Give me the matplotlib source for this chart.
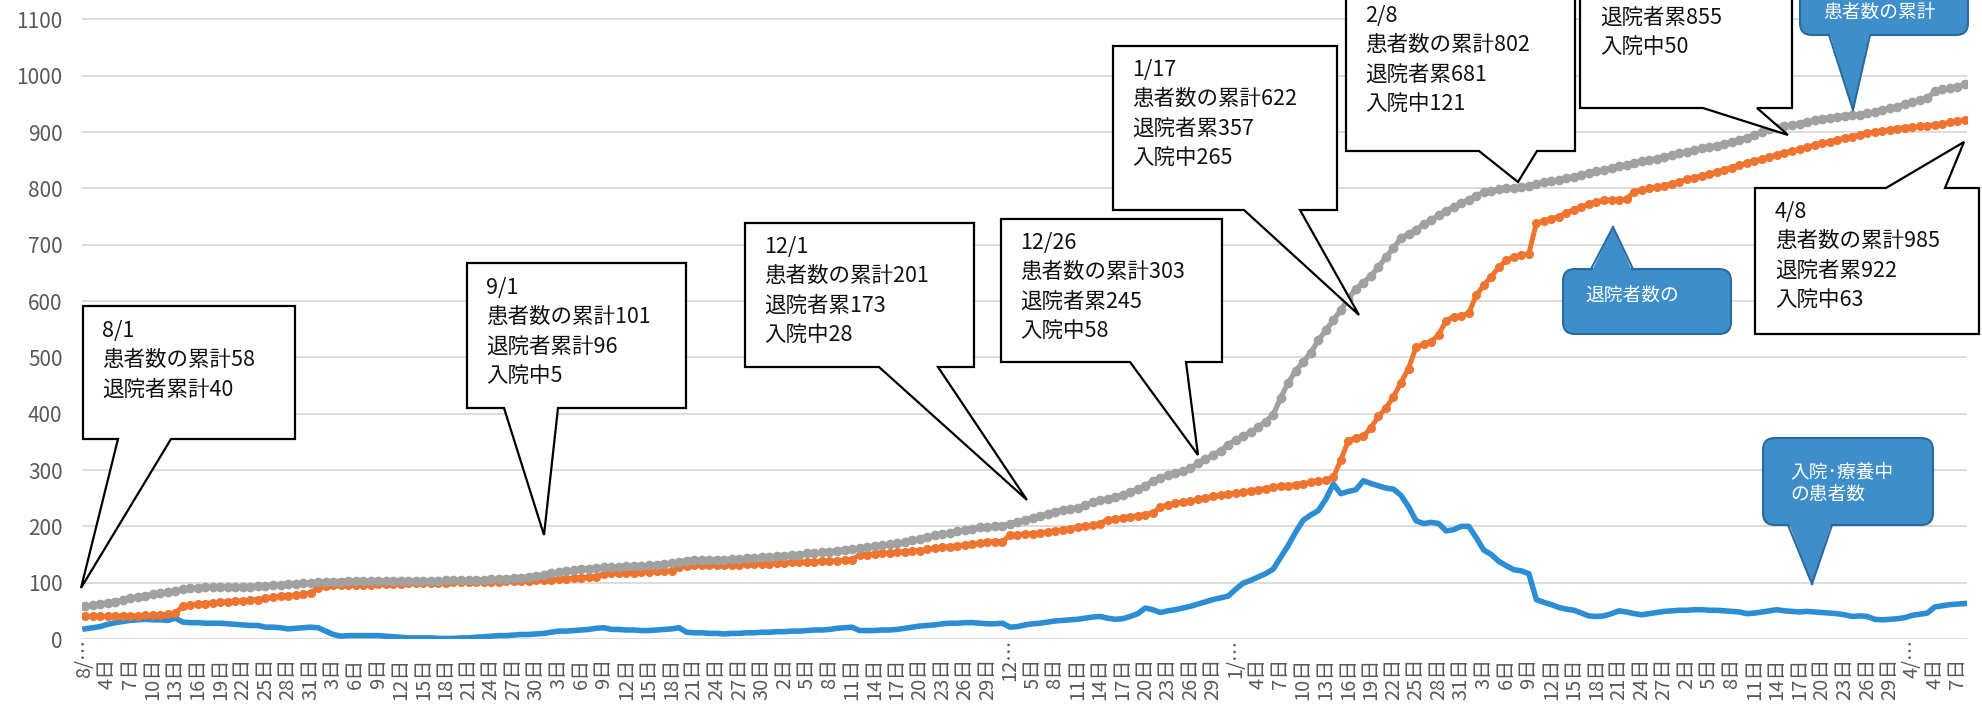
import numpy as np
import pandas as pd
import matplotlib
matplotlib.use("Agg")
import matplotlib.pyplot as plt
from matplotlib.patches import Polygon, FancyBboxPatch
from matplotlib.lines import Line2D
from matplotlib.transforms import Affine2D

plt.rcParams['font.family'] = ['Noto Sans CJK JP', 'DejaVu Sans']

# daily values, 2020-08-01 .. 2021-04-08
# 患者数の累計
total_aug = [58, 60, 62, 64, 66, 69, 72, 75, 77, 79, 81, 83, 85, 88, 90, 91, 92, 92, 92, 93,
             93, 93, 93, 94, 94, 95, 96, 97, 98, 99, 100]
total_sep = [101, 102, 102, 102, 103, 103, 103, 103, 103, 103, 103, 103, 103, 103, 103, 103, 103, 104, 104, 104,
             104, 105, 105, 106, 106, 107, 108, 109, 110, 112]
total_oct = [114, 117, 119, 121, 122, 124, 125, 126, 127, 128, 128, 129, 130, 130, 131, 132, 133, 135, 137, 139,
             140, 140, 141, 141, 141, 142, 142, 143, 144, 145, 146]
total_nov = [147, 148, 149, 150, 152, 153, 154, 155, 157, 158, 160, 161, 163, 165, 166, 168, 170, 172, 175, 178,
             181, 184, 186, 188, 191, 194, 196, 198, 199, 200]
total_dec = [201, 204, 208, 212, 215, 218, 222, 226, 229, 231, 233, 238, 243, 246, 249, 252, 256, 261, 266, 272,
             280, 286, 291, 295, 299, 303, 312, 320, 326, 334, 345]
total_jan = [353, 360, 367, 376, 386, 398, 428, 455, 476, 492, 508, 530, 548, 566, 584, 604, 622, 632, 645, 660,
             678, 694, 712, 719, 726, 736, 744, 752, 760, 767, 774]
total_feb = [780, 787, 793, 796, 798, 800, 801, 802, 805, 808, 811, 813, 815, 818, 821, 824, 827, 830, 833, 836,
             839, 842, 845, 848, 850, 853, 856, 859]
total_mar = [862, 865, 868, 871, 873, 876, 879, 882, 886, 890, 895, 900, 905, 908, 910, 912, 915, 918, 921, 924,
             925, 927, 929, 930, 931, 933, 936, 939, 942, 945, 950]
total_apr = [953, 956, 960, 972, 976, 978, 980, 985]

# 退院者数の累計
disch_aug = [40, 40, 40, 40, 41, 41, 41, 41, 42, 42, 43, 44, 46, 58, 60, 62, 63, 64, 65, 66,
             67, 68, 69, 70, 72, 74, 76, 77, 78, 79, 82]
disch_sep = [90, 94, 95, 95, 96, 96, 96, 96, 97, 97, 98, 98, 99, 99, 99, 100, 100, 100, 101, 101,
             101, 102, 102, 102, 102, 103, 103, 103, 103, 104]
disch_oct = [104, 105, 106, 107, 108, 109, 110, 110, 116, 117, 117, 118, 118, 119, 119, 120, 120, 121, 128, 130,
             131, 131, 131, 131, 131, 132, 132, 133, 133, 134, 134]
disch_nov = [135, 135, 136, 136, 137, 137, 138, 138, 139, 140, 141, 149, 150, 151, 152, 153, 154, 155, 156, 157,
             159, 161, 163, 164, 165, 167, 168, 170, 172, 173]
disch_dec = [173, 184, 185, 186, 187, 188, 190, 192, 194, 196, 198, 200, 202, 205, 212, 213, 215, 217, 219, 221,
             224, 234, 238, 241, 243, 245, 248, 250, 253, 255, 257]
disch_jan = [259, 261, 263, 265, 267, 269, 271, 272, 274, 276, 278, 280, 282, 287, 318, 352, 357, 360, 375, 395,
             410, 430, 455, 480, 518, 523, 528, 540, 565, 572, 574]
disch_feb = [578, 610, 628, 643, 660, 672, 678, 681, 684, 738, 742, 746, 750, 756, 762, 767, 772, 776, 779, 779,
             780, 781, 794, 797, 800, 802, 805, 808]
disch_mar = [811, 816, 819, 822, 825, 829, 833, 837, 841, 845, 849, 852, 855, 860, 863, 866, 869, 873, 877, 880,
             883, 886, 889, 892, 895, 898, 900, 902, 904, 906, 908]
disch_apr = [909, 910, 911, 913, 915, 917, 919, 922]

# 入院・療養中の患者数
inpat_aug = [18, 20, 22, 26, 29, 31, 33, 34, 35, 34, 34, 33, 37, 30, 29, 29, 28, 28, 28, 27,
             26, 25, 24, 24, 21, 21, 20, 18, 19, 20, 21]
inpat_sep = [20, 14, 8, 5, 6, 6, 6, 6, 6, 5, 4, 3, 2, 2, 2, 2, 1, 1, 1, 2,
             2, 3, 4, 5, 6, 6, 7, 8, 8, 9]
inpat_oct = [10, 12, 14, 14, 15, 16, 17, 19, 20, 17, 17, 16, 16, 15, 15, 16, 17, 18, 20, 12,
             11, 11, 10, 10, 9, 10, 10, 11, 11, 12, 12]
inpat_nov = [13, 13, 14, 14, 15, 16, 16, 17, 19, 20, 21, 15, 15, 15, 16, 16, 17, 19, 21, 23,
             24, 25, 27, 28, 28, 29, 29, 28, 27, 27]
inpat_dec = [28, 21, 22, 25, 27, 28, 30, 32, 33, 34, 35, 37, 39, 40, 37, 35, 36, 40, 45, 55,
             52, 47, 50, 52, 55, 58, 62, 66, 70, 73, 76]
inpat_jan = [88, 99, 104, 110, 116, 124, 145, 166, 190, 211, 220, 228, 248, 275, 258, 262, 265, 281, 276, 272,
             268, 266, 255, 235, 210, 205, 207, 205, 192, 194, 200]
inpat_feb = [200, 180, 158, 150, 138, 130, 123, 121, 116, 70, 65, 61, 56, 53, 51, 46, 41, 40, 41, 45,
             50, 48, 45, 43, 45, 47, 49, 50]
inpat_mar = [51, 51, 52, 52, 51, 51, 50, 49, 48, 45, 46, 48, 50, 52, 50, 49, 48, 49, 48, 47,
             46, 45, 43, 40, 41, 40, 35, 34, 35, 36, 38]
inpat_apr = [42, 44, 46, 57, 59, 61, 62, 63]

total = total_aug + total_sep + total_oct + total_nov + total_dec + total_jan + total_feb + total_mar + total_apr
disch = disch_aug + disch_sep + disch_oct + disch_nov + disch_dec + disch_jan + disch_feb + disch_mar + disch_apr
inpat = inpat_aug + inpat_sep + inpat_oct + inpat_nov + inpat_dec + inpat_jan + inpat_feb + inpat_mar + inpat_apr

dates = pd.date_range('2020-08-01', '2021-04-08', freq='D')
month_labels = {0: '8/…', 123: '12…', 153: '1/…', 243: '4/…'}

# callouts: date, total, discharged, in hospital
notes = [
    ['8/1', '患者数の累計58', '退院者累計40'],
    ['9/1', '患者数の累計101', '退院者累計96', '入院中5'],
    ['12/1', '患者数の累計201', '退院者累173', '入院中28'],
    ['12/26', '患者数の累計303', '退院者累245', '入院中58'],
    ['1/17', '患者数の累計622', '退院者累357', '入院中265'],
    ['2/8', '患者数の累計802', '退院者累681', '入院中121'],
    ['退院者累855', '入院中50'],
    ['4/8', '患者数の累計985', '退院者累922', '入院中63'],
]

C_TOTAL = '#9fa29f'
C_DISCH = '#ee7430'
C_INPAT = '#2b8dd3'
BOX_FC = '#3d8ecb'
BOX_EC = '#2a6a9c'

W, H = 1983, 707
fig = plt.figure(figsize=(W / 100, H / 100), dpi=100)
ax = fig.add_axes([82 / W, 1 - 639 / H, 1885 / W, 639 / H])
px = Affine2D().scale(1 / W, -1 / H).translate(0, 1) + fig.transFigure

x = np.arange(len(dates))
ax.plot(x, inpat, color=C_INPAT, lw=4, solid_joinstyle='round', zorder=3)
ax.plot(x, disch, color=C_DISCH, lw=3.6, marker='o', ms=5.5, mec=C_DISCH, zorder=4)
ax.plot(x, total, color=C_TOTAL, lw=3.8, marker='o', ms=6, mec=C_TOTAL, zorder=5)

ax.set_xlim(-0.4, 250.27)
ax.set_ylim(0, 1134.4)
ax.set_yticks(range(0, 1101, 100))
ax.yaxis.grid(True, color='#d6d6d6', lw=1.2)
ax.set_axisbelow(True)
for s in ax.spines.values():
    s.set_visible(False)

ticks = list(range(0, len(dates), 3))
labels = [month_labels.get(i, f'{dates[i].day}日') for i in ticks]
ax.set_xticks(ticks)
ax.set_xticklabels(labels, rotation=90, fontsize=14.5, color='#595959')
for t, i in zip(ax.xaxis.get_major_ticks(), ticks):
    t.set_pad(0 if i in month_labels else 13.5)
ax.tick_params(axis='both', length=0)
ax.tick_params(axis='y', labelsize=15, labelcolor='#595959', pad=14)


def box_callout(x0, y0, x1, y1, b1, b2, tip, lines, tx, ty, side='bottom'):
    if side == 'bottom':
        verts = [(x0, y0), (x1, y0), (x1, y1), (b2, y1), tip, (b1, y1), (x0, y1)]
    else:
        verts = [(x0, y0), (b1, y0), tip, (b2, y0), (x1, y0), (x1, y1), (x0, y1)]
    fig.add_artist(Polygon(verts, closed=True, transform=px, facecolor='white',
                           edgecolor='black', lw=1.6, joinstyle='miter', zorder=5))
    for k, s in enumerate(lines):
        fig.text(tx, ty + k * 29.3, s, transform=px, fontsize=15.5, color='#111111',
                 ha='left', va='center', zorder=6)


def blue_callout(x0, y0, x1, y1, b1, b2, tip, lines, tx, ty, side='bottom'):
    fig.add_artist(FancyBboxPatch((x0, y0), x1 - x0, y1 - y0, boxstyle='round,pad=0,rounding_size=12',
                                  transform=px, fc=BOX_FC, ec=BOX_EC, lw=1.5, zorder=7))
    yb = y1 if side == 'bottom' else y0
    inner = yb - 4 if side == 'bottom' else yb + 4
    fig.add_artist(Polygon([(b1, inner), (b2, inner), tip], closed=True, transform=px,
                           fc=BOX_FC, ec='none', zorder=8))
    for bx in (b1, b2):
        fig.add_artist(Line2D([bx, tip[0]], [yb, tip[1]], transform=px, color=BOX_EC, lw=1.5, zorder=8))
    for k, s in enumerate(lines):
        fig.text(tx, ty + k * 22, s, transform=px, fontsize=13.5, color='white',
                 ha='left', va='center', zorder=9)


box_callout(83, 306, 295, 439, 118, 171, (81, 588), notes[0], 102, 331)
box_callout(467, 263, 686, 408, 504, 558, (544, 535), notes[1], 486, 288)
box_callout(745, 223, 974, 367, 879, 938, (1027, 500), notes[2], 764, 247)
box_callout(1001, 219, 1222, 362, 1130, 1186, (1198, 455), notes[3], 1020, 243)
box_callout(1113, 46, 1337, 210, 1244, 1300, (1359, 315), notes[4], 1132, 70)
box_callout(1346, -30, 1575, 151, 1479, 1537, (1518, 182), notes[5], 1365, 16)
box_callout(1580, -60, 1792, 108, 1703, 1757, (1788, 135), notes[6], 1600, 18)
box_callout(1755, 188, 1979, 334, 1886, 1945, (1964, 142), notes[7], 1775, 212, side='top')

blue_callout(1800, -30, 1968, 35, 1829, 1870, (1853, 110), ['患者数の累計'], 1823, 12)
blue_callout(1563, 269, 1731, 334, 1591, 1633, (1613, 227), ['退院者数の'], 1585, 295, side='top')
blue_callout(1763, 438, 1933, 525, 1788, 1832, (1812, 584), ['入院･療養中', 'の患者数'], 1790, 472)

fig.savefig('out.png', dpi=100, facecolor='white')
